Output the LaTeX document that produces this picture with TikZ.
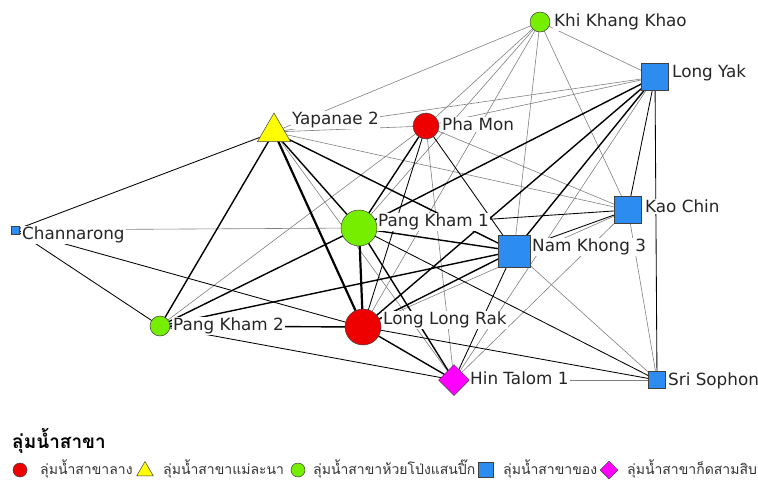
\documentclass[tikz,border=0pt]{standalone}
\usepackage{fontspec}
\setmainfont{DejaVu Sans}
\newfontfamily\thaifont[Script=Thai]{Loma}
\usetikzlibrary{shapes.geometric,backgrounds}
\definecolor{rd}{RGB}{238,0,0}
\definecolor{yl}{RGB}{255,255,0}
\definecolor{gr}{RGB}{118,238,0}
\definecolor{bl}{RGB}{44,140,240}
\definecolor{mg}{RGB}{255,0,255}
\tikzset{
  lbl/.style={anchor=west, fill=white, inner sep=1pt, font=\fontsize{16.8}{19}\selectfont, text=black!85},
  leg/.style={anchor=west, inner sep=0pt, text=black!80, font=\thaifont\fontsize{14}{16}\selectfont},
  nd/.style={draw=black!75, line width=0.5pt, inner sep=0pt},
  rnd/.style={nd, circle, minimum size=#1},
  sqr/.style={nd, rectangle, fill=bl, minimum size=#1},
  tri/.style={nd, regular polygon, regular polygon sides=3, fill=yl, minimum size=#1},
  dmd/.style={nd, diamond, fill=mg, minimum size=#1},
  thn/.style={black!50, line width=0.6pt},
  med/.style={black, line width=0.85pt},
  thk/.style={black, line width=1.4pt},
  vth/.style={black, line width=2.2pt}
}
\begin{document}
\begin{tikzpicture}[x=1pt, y=-1pt]
\useasboundingbox (0,0) rectangle (758,480);
% sub-basins
\node[rnd=20, fill=gr] (kkk) at (540,22) {};
\node[sqr=27] (ly) at (655,77) {};
\node[tri=38] (y2) at (274,132) {};
\node[rnd=26, fill=rd] (pm) at (426,126) {};
\node[sqr=27] (kc) at (628,210) {};
\node[rnd=36, fill=gr] (pk1) at (359,228) {};
\node[sqr=8] (ch) at (15,230) {};
\node[sqr=32] (nk3) at (514,251) {};
\node[rnd=20, fill=gr] (pk2) at (160,326) {};
\node[rnd=36, fill=rd] (llr) at (363,327) {};
\node[dmd=31, fill=mg] (ht) at (454,380) {};
\node[sqr=17] (ss) at (657,380) {};
% links
\begin{pgfonlayer}{background}
\foreach \a/\b in {kkk/y2,kkk/ly,kkk/pm,kkk/pk1,kkk/llr,kkk/nk3,kkk/kc,ly/y2,ly/pm,ly/ht,
  y2/pm,y2/kc,y2/ht,pm/ht,pm/kc,pm/pk2,ch/pk1,kc/llr,kc/ht,kc/ss,nk3/ss,ht/ss}
  \draw[thn] (\a.center) -- (\b.center);
\foreach \a/\b in {ly/kc,ly/ss,y2/ch,pm/llr,ch/llr,ch/pk2,pk1/ss,pk1/kc,pk2/ht,nk3/ht,
  nk3/kc,llr/ss,pm/nk3}
  \draw[med] (\a.center) -- (\b.center);
\foreach \a/\b in {ly/pk1,ly/nk3,ly/llr,y2/pk2,y2/pk1,y2/nk3,pm/pk1,pk1/pk2,pk1/nk3,
  pk1/ht,pk2/nk3,pk2/llr,nk3/llr,llr/ht}
  \draw[thk] (\a.center) -- (\b.center);
\foreach \a/\b in {y2/llr,pk1/llr}
  \draw[vth] (\a.center) -- (\b.center);
\end{pgfonlayer}
% names
\node[lbl] (kkkl) at (553,22) {Khi Khang Khao};
\node[lbl] (lyl) at (671,73) {Long Yak};
\node[lbl] (y2l) at (291,120) {Yapanae 2};
\node[lbl] (pml) at (441,124) {Pha Mon};
\node[lbl] (kcl) at (644,206) {Kao Chin};
\node[lbl] (pk1l) at (377,222) {Pang Kham 1};
\node[lbl] (chl) at (21,235) {Channarong};
\node[lbl] (nk3l) at (531,247) {Nam Khong 3};
\node[lbl] (pk2l) at (172,326) {Pang Kham 2};
\node[lbl] (llrl) at (382,320) {Long Long Rak};
\node[lbl] (htl) at (469,378) {Hin Talom 1};
\node[lbl] (ssl) at (667,381) {Sri Sophon};
% legend
\node[leg, text=black, font=\thaifont\bfseries\fontsize{19}{21}\selectfont] (legt) at (12,441) {ลุ่มน้ำสาขา};
\node[rnd=14, fill=rd] (k1) at (20,470) {};
\node[leg] (t1) at (40,469) {ลุ่มน้ำสาขาลาง};
\node[tri=19] (k2) at (145,471) {};
\node[leg] (t2) at (163,469) {ลุ่มน้ำสาขาแม่ละนา};
\node[rnd=14, fill=gr] (k3) at (298,470) {};
\node[leg] (t3) at (313,469) {ลุ่มน้ำสาขาห้วยโป่งแสนปิ๊ก};
\node[sqr=15] (k4) at (486,470) {};
\node[leg] (t4) at (503,469) {ลุ่มน้ำสาขาของ};
\node[dmd=18] (k5) at (609,470) {};
\node[leg] (t5) at (627,469) {ลุ่มน้ำสาขาก็ดสามสิบ};
\end{tikzpicture}
\end{document}
